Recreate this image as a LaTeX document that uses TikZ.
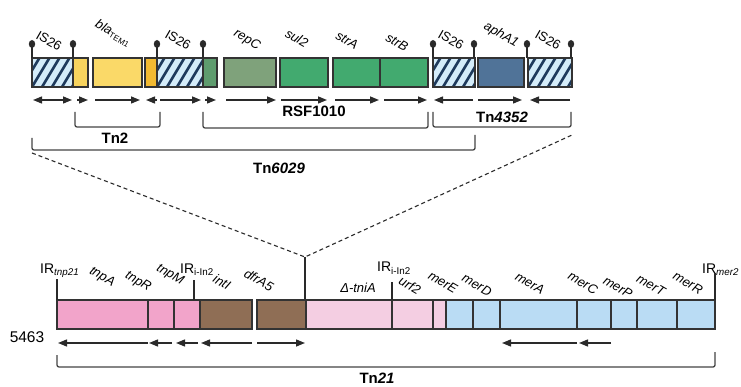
\documentclass[tikz,border=0pt]{standalone}
\usepackage{fontspec}
\setmainfont{Liberation Sans}
\usetikzlibrary{arrows.meta}
\definecolor{boxline}{HTML}{333333}
\definecolor{hatchbg}{HTML}{D4ECF9}
\definecolor{hatchline}{HTML}{1E3A5C}
\definecolor{yel}{HTML}{F8D45E}
\definecolor{yelB}{HTML}{FAD968}
\definecolor{org}{HTML}{F2BA32}
\definecolor{gdark}{HTML}{5E9C6E}
\definecolor{greygreen}{HTML}{7FA27B}
\definecolor{grn}{HTML}{42AA6F}
\definecolor{steel}{HTML}{507398}
\definecolor{pinkA}{HTML}{F2A4CA}
\definecolor{brownG}{HTML}{8F6E55}
\definecolor{pinkL}{HTML}{F4CEE2}
\definecolor{blueL}{HTML}{BADCF4}
\definecolor{arrcol}{HTML}{2A2A2A}
\definecolor{brk}{HTML}{444444}
\begin{document}
\begin{tikzpicture}[x=1pt,y=-1pt,
  gene/.style={draw=boxline,line width=1.1pt,minimum height=29pt,inner sep=0pt,outer sep=0pt,anchor=north west},
  hatchbox/.style={gene,fill=hatchbg,path picture={
     \foreach \k in {-4,...,6}{\draw[line width=2.6pt,hatchline] ([xshift=\k*10pt]path picture bounding box.south west) -- ++(18pt,30pt);}}},
  glab/.style={font=\fontsize{13}{15}\selectfont\itshape,rotate=-30,inner sep=0pt},
  ulab/.style={font=\fontsize{13}{15}\selectfont,rotate=-30,inner sep=0pt},
  irlab/.style={font=\fontsize{14}{16}\selectfont,inner sep=0pt,anchor=base west},
  tnlab/.style={font=\fontsize{15}{17}\selectfont\bfseries,inner sep=0pt},
  arr/.style={line width=1.4pt,draw=arrcol,-{Triangle[length=9pt,width=7pt]}},
  darr/.style={line width=1.4pt,draw=arrcol,{Triangle[length=9pt,width=7pt]}-{Triangle[length=9pt,width=7pt]}},
  bracket/.style={line width=1.3pt,draw=brk,rounded corners=2pt},
  pinline/.style={line width=1.4pt,draw=arrcol},
  irline/.style={line width=1.2pt,draw=arrcol},
  dashline/.style={line width=1.1pt,draw=arrcol,dash pattern=on 4pt off 3pt}
]
\useasboundingbox (0,0) rectangle (741,387);
% ---------- top row boxes ----------
\node[hatchbox,minimum width=41pt] (is1) at (32,58) {};
\node[gene,fill=yel,minimum width=15pt] (y1) at (73,58) {};
\node[gene,fill=yelB,minimum width=49pt] (bla) at (93,58) {};
\node[gene,fill=org,minimum width=12pt] (y2) at (145,58) {};
\node[hatchbox,minimum width=46pt] (is2) at (157,58) {};
\node[gene,fill=gdark,minimum width=14pt] (g0) at (203,58) {};
\node[gene,fill=greygreen,minimum width=52pt] (repC) at (224,58) {};
\node[gene,fill=grn,minimum width=48pt] (sul) at (280,58) {};
\node[gene,fill=grn,minimum width=47pt] (strA) at (333,58) {};
\node[gene,fill=grn,minimum width=48pt] (strB) at (380,58) {};
\node[hatchbox,minimum width=42pt] (is3) at (433,58) {};
\node[gene,fill=steel,minimum width=46pt] (aph) at (478,58) {};
\node[hatchbox,minimum width=44pt] (is4) at (528,58) {};
% pins
\foreach \p in {32,73,157,203,433,474,527,571}{
  \draw[pinline] (\p,58) -- (\p,46);
  \fill[arrcol] (\p,44) ellipse (3.2pt and 4pt);
}
% top labels
\node[ulab] (l1) at (49,41) {IS26};
\node[glab] (l2) at (113,33) {bla\raisebox{-2pt}{\upshape\fontsize{8}{8}\selectfont TEM1}};
\node[ulab] (l3) at (178,40) {IS26};
\node[glab] (l4) at (247,40) {repC};
\node[glab] (l5) at (297,38) {sul2};
\node[glab] (l6) at (347,40) {strA};
\node[glab] (l7) at (397,42) {strB};
\node[ulab] (l8) at (451,40) {IS26};
\node[glab] (l9) at (501,35) {aphA1};
\node[ulab] (l10) at (548,40) {IS26};
% top arrows
\draw[darr] (33,100) -- (72,100);
\draw[arr] (77,100) -- (88,100);
\draw[arr] (95,100) -- (140,100);
\draw[arr] (157,100) -- (146,100);
\draw[arr] (160,100) -- (201,100);
\draw[arr] (205,100) -- (216,100);
\draw[arr] (226,100) -- (276,100);
\draw[arr] (281,100) -- (327,100);
\draw[arr] (335,100) -- (379,100);
\draw[arr] (384,100) -- (427,100);
\draw[arr] (473,100) -- (434,100);
\draw[arr] (478,100) -- (522,100);
\draw[arr] (570,100) -- (530,100);
% top brackets
\draw[bracket] (75,112) -- (75,127) -- (160,127) -- (160,112);
\draw[bracket] (203,112) -- (203,128) -- (428,128) -- (428,112);
\draw[bracket] (433,112) -- (433,127) -- (571,127) -- (571,112);
\draw[bracket] (32,138) -- (32,150) -- (475,150) -- (475,135);
\node[tnlab] (tn2) at (115,138) {Tn2};
\node[tnlab] (rsf) at (314,111) {RSF1010};
\node[tnlab] (tn4352) at (502,117) {Tn\textit{4352}};
\node[tnlab] (tn6029) at (279,168) {Tn\textit{6029}};
% dashed zoom lines
\coordinate (apex) at (305,257);
\coordinate (dl) at (32,153);
\coordinate (dr) at (572,135);
\draw[dashline] (dl) -- (apex) -- (dr);
\draw[irline] (apex) -- (305,300);
% ---------- bottom row boxes ----------
\node[gene,fill=pinkA,minimum width=91pt] (tnpA) at (57,300) {};
\node[gene,fill=pinkA,minimum width=26pt] (tnpR) at (148,300) {};
\node[gene,fill=pinkA,minimum width=26pt] (tnpM) at (174,300) {};
\node[gene,fill=brownG,minimum width=52pt] (intI) at (200,300) {};
\node[gene,fill=brownG,minimum width=49pt] (dfr) at (257,300) {};
\node[gene,fill=pinkL,minimum width=86pt] (tniA) at (306,300) {};
\node[gene,fill=pinkL,minimum width=41pt] (urf) at (392,300) {};
\node[gene,fill=pinkL,minimum width=13pt] (merE) at (433,300) {};
\node[gene,fill=blueL,minimum width=27pt] (merD1) at (446,300) {};
\node[gene,fill=blueL,minimum width=27pt] (merD2) at (473,300) {};
\node[gene,fill=blueL,minimum width=77pt] (merA) at (500,300) {};
\node[gene,fill=blueL,minimum width=34pt] (merC) at (577,300) {};
\node[gene,fill=blueL,minimum width=26pt] (merP) at (611,300) {};
\node[gene,fill=blueL,minimum width=40pt] (merT) at (637,300) {};
\node[gene,fill=blueL,minimum width=38pt] (merR) at (677,300) {};
% IR ticks
\draw[irline] (57,300) -- (57,279);
\draw[irline] (194,300) -- (194,280);
\draw[irline] (392,300) -- (392,282);
\draw[irline] (715,300) -- (715,273);
\node[irlab] (ir1) at (40,273) {IR\textsubscript{\itshape tnp21}};
\node[irlab] (ir2) at (180,273) {IR\textsubscript{i-In2}};
\node[irlab] (ir3) at (377,272) {IR\textsubscript{i-In2}};
\node[irlab] (ir4) at (702,273) {IR\textsubscript{\itshape mer2}};
% bottom labels
\node[glab] (b1) at (102,277) {tnpA};
\node[glab] (b2) at (138,282) {tnpR};
\node[glab] (b3) at (170,275) {tnpM};
\node[glab] (b4) at (222,282) {intI};
\node[glab] (b5) at (259,280) {dfrA5};
\node[font=\fontsize{13}{15}\selectfont\itshape,inner sep=0pt] (b6) at (358,288) {Δ-tniA};
\node[glab] (b7) at (410,285) {urf2};
\node[glab] (b8) at (443,282) {merE};
\node[glab] (b9) at (477,285) {merD};
\node[glab] (b10) at (530,283) {merA};
\node[glab] (b11) at (583,283) {merC};
\node[glab] (b12) at (618,287) {merP};
\node[glab] (b13) at (651,285) {merT};
\node[glab] (b14) at (688,283) {merR};
\node[font=\fontsize{15.5}{17}\selectfont,inner sep=0pt] (num) at (27,337) {5463};
% bottom arrows
\draw[arr] (148,343) -- (58,343);
\draw[arr] (172,343) -- (149,343);
\draw[arr] (198,343) -- (176,343);
\draw[arr] (252,343) -- (201,343);
\draw[arr] (257,343) -- (305,343);
\draw[arr] (577,343) -- (502,343);
\draw[arr] (611,343) -- (579,343);
% Tn21 bracket
\draw[bracket] (57,355) -- (57,367) -- (715,367) -- (715,352);
\node[tnlab] (tn21) at (377,378) {Tn\textit{21}};
\end{tikzpicture}
\end{document}
